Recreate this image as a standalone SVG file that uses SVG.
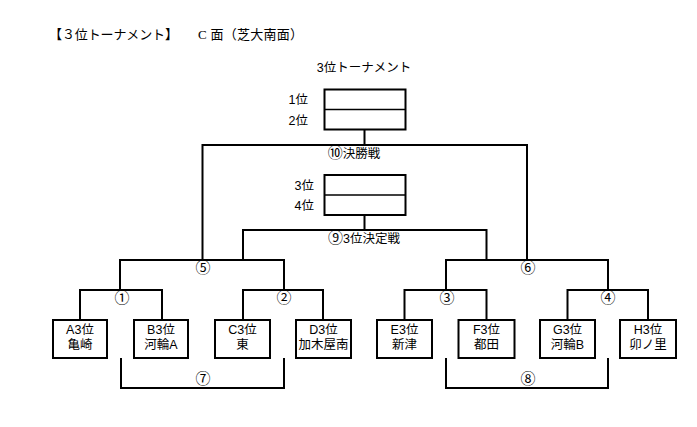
<svg xmlns="http://www.w3.org/2000/svg" width="697" height="427" viewBox="0 0 697 427">
<style>
text{font-family:"Liberation Sans","Noto Sans CJK JP",sans-serif;font-size:12.5px;fill:#000}
.c{text-anchor:middle}
.e{text-anchor:end}
.n{font-size:15px}
.hd{font-size:13px;font-family:"Noto Sans CJK JP",sans-serif}
.hs{font-size:13px;font-family:"Liberation Serif","Noto Sans CJK JP",serif}
.box{fill:#fff;stroke:#000;stroke-width:2}
.ln{fill:none;stroke:#000;stroke-width:2;stroke-linejoin:miter}
.thin{stroke:#000;stroke-width:1.3}
</style>
<rect width="697" height="427" fill="#fff"/>
<g id="header">
<text class="hd" x="49" y="38.5" textLength="129" lengthAdjust="spacing">【３位トーナメント】</text>
<text class="hs" x="198" y="38.5" textLength="105" lengthAdjust="spacing">C 面（芝大南面）</text>
<text class="c" x="364" y="71.5">3位トーナメント</text>
</g>
<g id="connectors">
<path class="ln" d="M364.5,130V145M202.5,260V145H527V260"/>
<path class="ln" d="M364.5,215V230M243,260V230H486.5V260"/>
<path class="ln" d="M120,290V260H284V290M446,290V260H608V290"/>
<path class="ln" d="M80,320V290H162V320M243,320V290H323V320M404.5,320V290H486.5V320M567.5,320V290H648V320"/>
<path class="ln" d="M121,358V388H284V358M446,358V388H608V358"/>
</g>
<g id="final">
<rect class="box" x="324.5" y="89.5" width="81" height="40"/>
<line class="thin" x1="324.5" y1="109.5" x2="405.5" y2="109.5"/>
<text class="e" x="308" y="104">1位</text>
<text class="e" x="308" y="124.5">2位</text>
<text class="c" x="354" y="157.5"><tspan class="n">⑩</tspan>決勝戦</text>
</g>
<g id="third">
<rect class="box" x="324.5" y="175" width="81" height="40"/>
<line class="thin" x1="324.5" y1="195" x2="405.5" y2="195"/>
<text class="e" x="314" y="189.5">3位</text>
<text class="e" x="314" y="209.5">4位</text>
<text class="c" x="364" y="243"><tspan class="n">⑨</tspan>3位決定戦</text>
</g>
<g id="match-labels" class="n">
<text class="c n" x="203" y="273">⑤</text>
<text class="c n" x="528" y="273">⑥</text>
<text class="c n" x="122" y="303">①</text>
<text class="c n" x="284" y="303">②</text>
<text class="c n" x="447" y="303">③</text>
<text class="c n" x="608" y="303">④</text>
<text class="c n" x="203" y="383.5">⑦</text>
<text class="c n" x="528" y="383.5">⑧</text>
</g>
<g id="teamA"><rect class="box" x="53" y="320" width="54" height="38"/><text class="c" x="80" y="333.5">A3位</text><text class="c" x="80" y="349">亀崎</text></g>
<g id="teamB"><rect class="box" x="134" y="320" width="54" height="38"/><text class="c" x="161" y="333.5">B3位</text><text class="c" x="161" y="349">河輪A</text></g>
<g id="teamC"><rect class="box" x="215" y="320" width="55" height="38"/><text class="c" x="242.5" y="333.5">C3位</text><text class="c" x="242.5" y="349">東</text></g>
<g id="teamD"><rect class="box" x="296" y="320" width="55" height="38"/><text class="c" x="323.5" y="333.5">D3位</text><text class="c" x="323.5" y="349">加木屋南</text></g>
<g id="teamE"><rect class="box" x="377" y="320" width="55" height="38"/><text class="c" x="404.5" y="333.5">E3位</text><text class="c" x="404.5" y="349">新津</text></g>
<g id="teamF"><rect class="box" x="458.5" y="320" width="56" height="38"/><text class="c" x="486.5" y="333.5">F3位</text><text class="c" x="486.5" y="349">都田</text></g>
<g id="teamG"><rect class="box" x="540" y="320" width="55" height="38"/><text class="c" x="567.5" y="333.5">G3位</text><text class="c" x="567.5" y="349">河輪B</text></g>
<g id="teamH"><rect class="box" x="620" y="320" width="56" height="38"/><text class="c" x="648" y="333.5">H3位</text><text class="c" x="648" y="349">卯ノ里</text></g>
</svg>
